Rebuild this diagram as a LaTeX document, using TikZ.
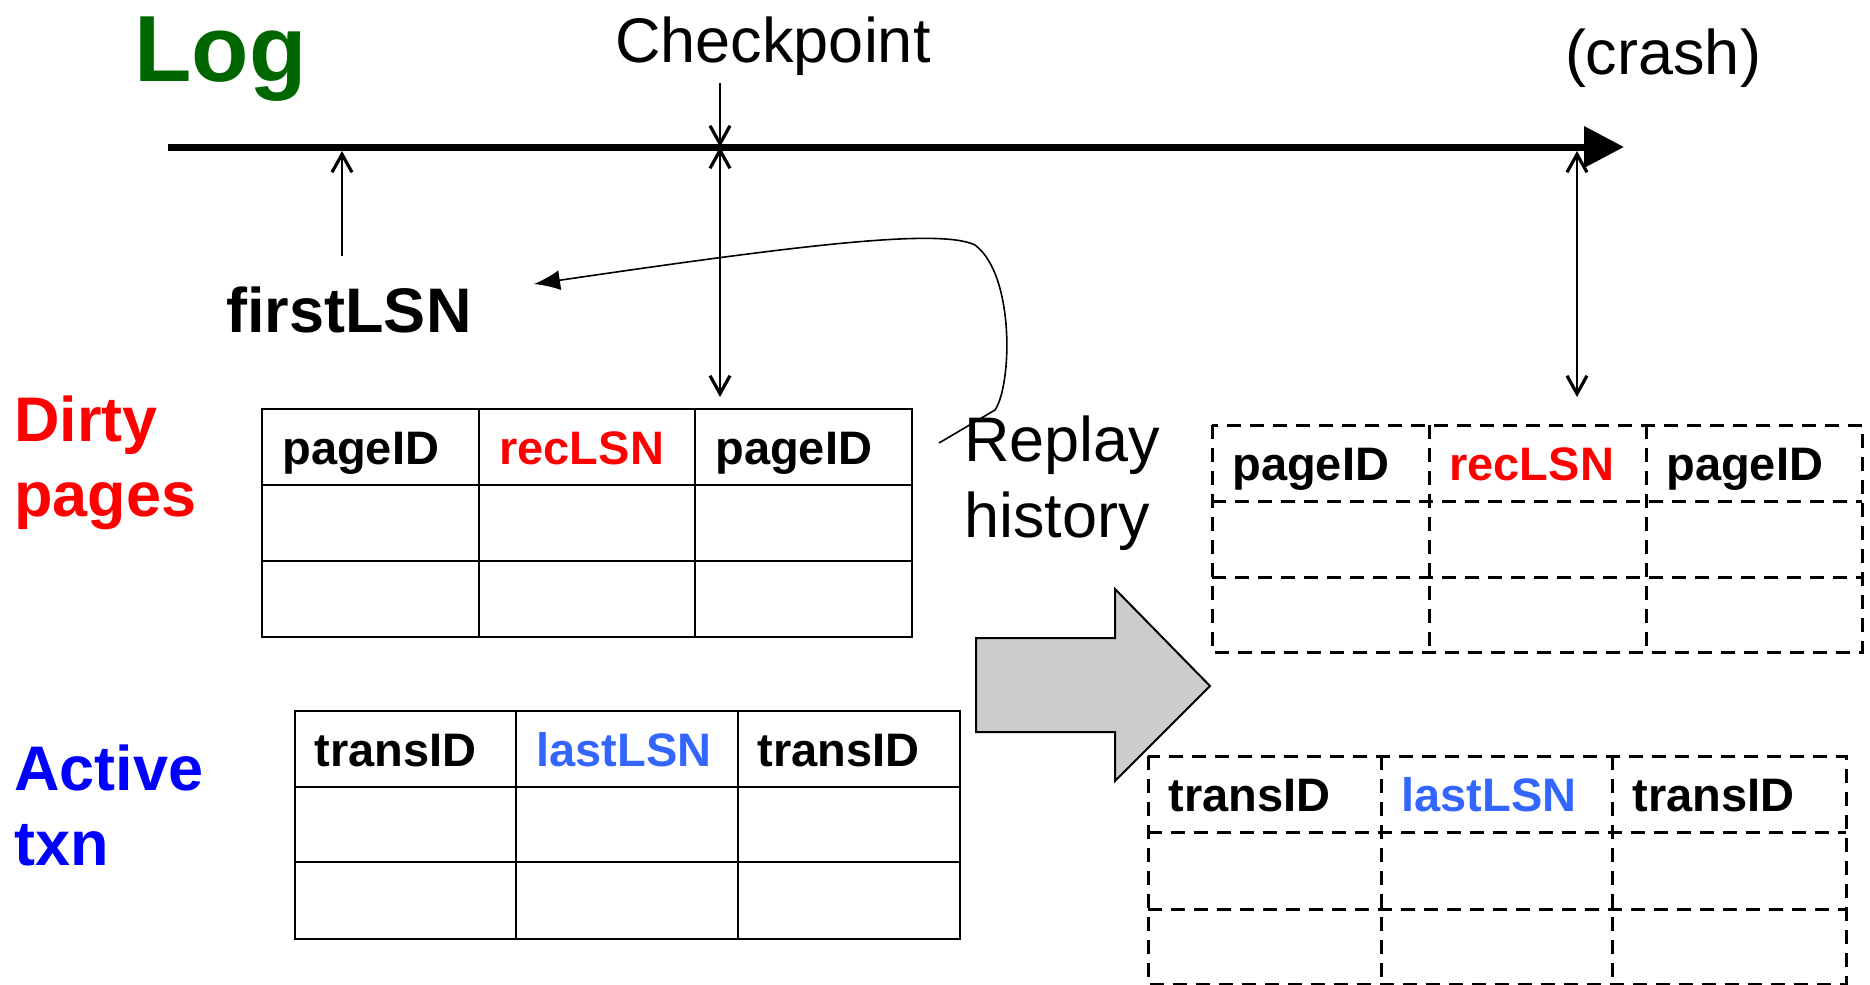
\documentclass[tikz,border=0pt]{standalone}
\usepackage{fontspec}
\setmainfont{Liberation Sans}
\usetikzlibrary{arrows.meta}

\definecolor{loggreen}{RGB}{0,102,0}
\definecolor{lsnblue}{RGB}{51,102,255}
\definecolor{arrowgray}{RGB}{204,204,204}

\tikzset{
    big/.style={font=\fontsize{31.5}{38}\selectfont},
    bigbold/.style={font=\fontsize{31.5}{38}\selectfont\bfseries},
    hdr/.style={anchor=base west, inner sep=0pt,
        font=\fontsize{23.5}{28}\selectfont\bfseries},
    fulltbl/.style={line width=1.4pt},
    dashtbl/.style={line width=1.5pt, dash pattern=on 7pt off 4.5pt},
    barb/.tip={Straight Barb[length=9pt,width=10pt,line width=1.6pt]},
    pointer/.style={line width=0.7pt, barb-barb}
}

\begin{document}
\begin{tikzpicture}[x=0.5pt, y=-0.5pt]
\useasboundingbox (0,0) rectangle (1870,985);

% Log axis
\node [anchor=base west, inner sep=0pt, text=loggreen,
    font=\fontsize{47}{56}\selectfont\bfseries] (log) at (134,81) {Log};
\coordinate (start) at (168,147);
\coordinate (end) at (1624,147);
\draw [line width=3.5pt, -{Triangle[length=20pt,width=20pt]}] (start) -- (end);

\node [big, anchor=base, inner sep=0pt] (ckpt) at (773,62) {Checkpoint};
\node [big, anchor=base, inner sep=0pt] (crash) at (1663,74) {(crash)};

% Pointers onto the log
\coordinate (ckabove) at (720,83);
\coordinate (ckon) at (720,147);
\coordinate (ckdown) at (720,397);
\coordinate (fon) at (342,151);
\coordinate (ffoot) at (342,256);
\coordinate (cron) at (1577,151);
\coordinate (crdown) at (1577,397);

\draw [pointer, -barb] (ckabove) -- (ckon);
\draw [pointer] (ckon) -- (ckdown);
\draw [pointer] (cron) -- (crdown);
\draw [pointer, barb-] (fon) -- (ffoot);

\node [bigbold, anchor=base, inner sep=0pt] (first) at (349,332) {firstLSN};

% Replay history
\node [big, anchor=base west, inner sep=0pt] (replay) at (964,461) {Replay};
\node [big, anchor=base west, inner sep=0pt] (history) at (964,537) {history};
\coordinate (rs) at (939,443);
\coordinate (fl) at (534,284);
\draw [line width=0.8pt, -{Latex[length=13pt,width=10pt]}] (rs) -- (995,410)
    .. controls (1012,385) and (1015,275) .. (975,245)
    .. controls (940,228) and (800,245) .. (fl);

% Dirty pages table
\node [bigbold, anchor=base west, inner sep=0pt, text=red] (dirty) at (14,441) {Dirty};
\node [bigbold, anchor=base west, inner sep=0pt, text=red] (pages) at (14,516) {pages};
\draw [fulltbl] (262,409) rectangle (912,637)
    (479,409) -- (479,637) (695,409) -- (695,637)
    (262,485) -- (912,485) (262,561) -- (912,561);
\node [hdr] (dp1) at (282,464) {pageID};
\node [hdr, text=red] (dp2) at (499,464) {recLSN};
\node [hdr] (dp3) at (715,464) {pageID};

% Active txn table
\node [bigbold, anchor=base west, inner sep=0pt, text=blue] (active) at (14,790) {Active};
\node [bigbold, anchor=base west, inner sep=0pt, text=blue] (txn) at (14,865) {txn};
\draw [fulltbl] (295,711) rectangle (960,939)
    (516,711) -- (516,939) (738,711) -- (738,939)
    (295,787) -- (960,787) (295,862) -- (960,862);
\node [hdr] (at1) at (314,766) {transID};
\node [hdr, text=lsnblue] (at2) at (536,766) {lastLSN};
\node [hdr] (at3) at (757,766) {transID};

% Big arrow
\draw [line width=1pt, fill=arrowgray] (976,638) -- (1115,638) -- (1115,589)
    -- (1210,686) -- (1115,781) -- (1115,732) -- (976,732) -- cycle;

% Rebuilt dirty pages table
\draw [dashtbl] (1212,425) rectangle (1862,652)
    (1429,425) -- (1429,652) (1646,425) -- (1646,652)
    (1212,501) -- (1862,501) (1212,577) -- (1862,577);
\node [hdr] (rp1) at (1232,480) {pageID};
\node [hdr, text=red] (rp2) at (1449,480) {recLSN};
\node [hdr] (rp3) at (1666,480) {pageID};

% Rebuilt active txn table
\draw [dashtbl] (1148,756) rectangle (1846,984)
    (1381,756) -- (1381,984) (1612,756) -- (1612,984)
    (1148,832) -- (1846,832) (1148,909) -- (1846,909);
\node [hdr] (ra1) at (1168,811) {transID};
\node [hdr, text=lsnblue] (ra2) at (1401,811) {lastLSN};
\node [hdr] (ra3) at (1632,811) {transID};

\end{tikzpicture}
\end{document}
